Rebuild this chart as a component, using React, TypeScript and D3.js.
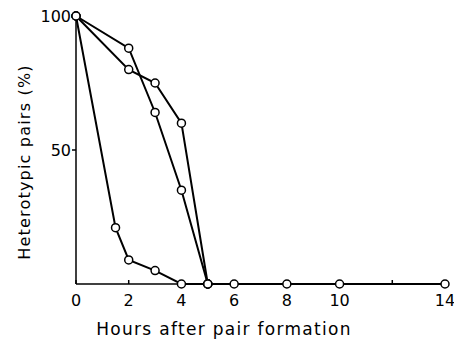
import React from "react";
import * as d3 from "d3";

const hoursA = [0, 1.5, 2, 3, 4, 5];
const valuesA = [100, 21, 9, 5, 0, 0];
const hoursB = [0, 2, 3, 4, 5];
const valuesB = [100, 88, 64, 35, 0];
const hoursC = [0, 2, 3, 4, 5];
const valuesC = [100, 80, 75, 60, 0];
const hoursTail = [5, 6, 8, 10, 14];
const valuesTail = [0, 0, 0, 0, 0];
const xTicks = [0, 2, 4, 6, 8, 10, 12, 14];
const xTickLabels = ["0", "2", "4", "6", "8", "10", "", "14"];
const yTicks = [50, 100];
const yTickLabels = ["50", "100"];

const W = 454, H = 342;
const x = d3.scaleLinear().domain([0, 14]).range([76, 445]);
const y = d3.scaleLinear().domain([0, 100]).range([284, 16]);
const line = d3.line<[number, number]>().x(d => x(d[0])).y(d => y(d[1]));
const zip = (a: number[], b: number[]) => a.map((v, i) => [v, b[i]] as [number, number]);

const series = [zip(hoursA, valuesA), zip(hoursB, valuesB), zip(hoursC, valuesC), zip(hoursTail, valuesTail)];

export default function App() {
  const font = "DejaVu Sans, sans-serif";
  return (
    <svg width={W} height={H} style={{ position: "absolute", left: 0, top: 0, background: "#fff" }}>
      <rect width={W} height={H} fill="#fff" />
      <line x1={x(0)} x2={x(14)} y1={y(0)} y2={y(0)} stroke="#000" strokeWidth={1.5} />
      <line x1={x(0)} x2={x(0)} y1={y(0)} y2={y(100)} stroke="#000" strokeWidth={1.5} />
      {xTicks.map((t, i) => (
        <g key={"xt" + i}>
          <line x1={x(t)} x2={x(t)} y1={y(0)} y2={y(0) - 4} stroke="#000" strokeWidth={1.5} />
          <text x={x(t)} y={306} textAnchor="middle" fontFamily={font} fontSize={16} fill="#000">{xTickLabels[i]}</text>
        </g>
      ))}
      {yTicks.map((t, i) => (
        <g key={"yt" + i}>
          <line x1={x(0) - 4} x2={x(0)} y1={y(t)} y2={y(t)} stroke="#000" strokeWidth={1.5} />
          <text x={x(0) - 5} y={y(t) + 6} textAnchor="end" fontFamily={font} fontSize={16} fill="#000">{yTickLabels[i]}</text>
        </g>
      ))}
      {series.map((s, i) => (
        <path key={"l" + i} d={line(s) || ""} fill="none" stroke="#000" strokeWidth={2} />
      ))}
      {series.map((s, i) =>
        s.map((p, j) => (
          <circle key={"c" + i + "-" + j} cx={x(p[0])} cy={y(p[1])} r={4} fill="#fff" stroke="#000" strokeWidth={1.5} />
        ))
      )}
      <text transform="translate(30,162) rotate(-90)" textAnchor="middle" fontFamily={font} fontSize={16} letterSpacing={1.2} fill="#000">Heterotypic pairs (%)</text>
      <text x={224} y={335} textAnchor="middle" fontFamily={font} fontSize={17} letterSpacing={1.3} fill="#000">Hours after pair formation</text>
    </svg>
  );
}
